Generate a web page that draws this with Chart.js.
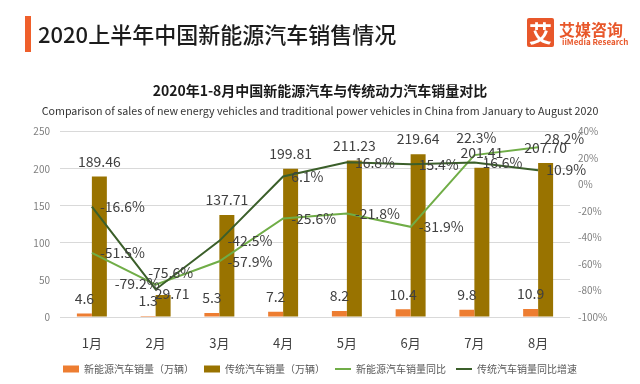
<!DOCTYPE html>
<html>
<head>
<meta charset="utf-8">
<script src="https://cdn.jsdelivr.net/npm/chart.js@4.4.1/dist/chart.umd.min.js"></script>
<style>
  html, body { margin: 0; padding: 0; background: #fff; }
  body { width: 640px; height: 384px; position: relative; overflow: hidden; font-family: "Noto Sans CJK SC", sans-serif; }
  .bar { position: absolute; left: 25px; top: 16px; width: 6px; height: 36px; background: #ef5f2b; }
  .head { position: absolute; left: 38px; top: 18px; font-size: 22px; line-height: 30px; color: #1c1c1c; font-weight: 500; }
  .logo-box { position: absolute; left: 527px; top: 18px; width: 27px; height: 29px; background: #e8572a; color: #fff;
    font-size: 23px; font-weight: 700; line-height: 29px; text-align: center; border-radius: 2px; }
  .logo-cn { position: absolute; left: 559px; top: 19px; font-size: 16px; line-height: 20px; font-weight: 700; color: #e8572a; }
  .logo-en { position: absolute; left: 562px; top: 37px; font-size: 8px; line-height: 10px; font-weight: 700; color: #e8572a; }
  .wrap { position: absolute; left: 0; top: 0; width: 640px; height: 384px; }
</style>
</head>
<body>
<div class="wrap"><canvas id="salesChart"></canvas></div>
<div class="bar"></div>
<div class="head">2020上半年中国新能源汽车销售情况</div>
<div class="logo-box">艾</div>
<div class="logo-cn">艾媒咨询</div>
<div class="logo-en">iiMedia Research</div>
<script>
const months = ["1月", "2月", "3月", "4月", "5月", "6月", "7月", "8月"];
const nevSales = [4.6, 1.3, 5.3, 7.2, 8.2, 10.4, 9.8, 10.9];
const fuelSales = [189.46, 29.71, 137.71, 199.81, 211.23, 219.64, 201.41, 207.70];
const nevYoY = [-51.5, -75.6, -57.9, -25.6, -21.8, -31.9, 22.3, 28.2];
const fuelYoY = [-16.6, -79.2, -42.5, 6.1, 16.8, 15.4, 16.6, 10.9];

// label nudges where the original moved them off the default spot
const labelTweaks = {
  1: { 1: { dx: 9, dy: 14 } },
  2: { 1: { align: "center", dx: 15, dy: -12 }, 6: { align: "center", dx: 2, dy: -17 }, 7: { dx: 6, dy: -9 } },
  3: { 1: { align: "right", dx: 4, dy: -6 } }
};

const valueLabels = {
  id: "valueLabels",
  afterDatasetsDraw(chart) {
    const ctx = chart.ctx;
    ctx.save();
    ctx.font = '14px "Noto Sans CJK SC"';
    ctx.fillStyle = "#404040";
    ctx.textBaseline = "middle";
    chart.data.datasets.forEach((ds, di) => {
      const meta = chart.getDatasetMeta(di);
      meta.data.forEach((el, i) => {
        const v = ds.data[i];
        const tw = (labelTweaks[di] && labelTweaks[di][i]) || {};
        let text, x, y, align;
        if (ds.type === "line") {
          text = v.toFixed(1) + "%";
          align = tw.align || "left";
          x = el.x + (tw.dx !== undefined ? tw.dx : 8);
          y = el.y + (tw.dy || 0);
        } else {
          text = v.toFixed(ds.decimals);
          align = "center";
          x = el.x + (tw.dx || 0);
          y = el.y - 15 + (tw.dy || 0);
        }
        ctx.textAlign = align;
        ctx.fillText(text, x, y);
      });
    });
    ctx.restore();
  }
};

Chart.defaults.font.family = '"Noto Sans CJK SC", sans-serif';

new Chart(document.getElementById("salesChart"), {
  type: "bar",
  data: {
    labels: months,
    datasets: [
      { type: "bar", label: "新能源汽车销量（万辆）", data: nevSales, decimals: 1, backgroundColor: "#ed7d31",
        yAxisID: "y", order: 2, pointStyle: "rect", categoryPercentage: 0.47, barPercentage: 1 },
      { type: "bar", label: "传统汽车销量（万辆）", data: fuelSales, decimals: 2, backgroundColor: "#997300",
        yAxisID: "y", order: 2, pointStyle: "rect", categoryPercentage: 0.47, barPercentage: 1 },
      { type: "line", label: "新能源汽车销量同比", data: nevYoY, borderColor: "#70ad47", backgroundColor: "#70ad47",
        borderWidth: 2, pointRadius: 0, tension: 0, yAxisID: "y1", order: 1, pointStyle: "line" },
      { type: "line", label: "传统汽车销量同比增速", data: fuelYoY, borderColor: "#3b5f2a", backgroundColor: "#3b5f2a",
        borderWidth: 2, pointRadius: 0, tension: 0, yAxisID: "y1", order: 0, pointStyle: "line" }
    ]
  },
  options: {
    responsive: true,
    maintainAspectRatio: false,
    animation: false,
    layout: { padding: { top: 82, left: 0, right: 0, bottom: 0 } },
    plugins: {
      title: {
        display: true,
        text: "2020年1-8月中国新能源汽车与传统动力汽车销量对比",
        color: "#1a1a1a",
        font: { size: 14, weight: "bold" },
        padding: { top: 0, bottom: 6 }
      },
      subtitle: {
        display: true,
        text: "Comparison of sales of new energy vehicles and traditional power vehicles in China from January to August 2020",
        color: "#333",
        font: { size: 10.7 },
        padding: { top: 0, bottom: 14 }
      },
      legend: {
        position: "bottom",
        labels: {
          usePointStyle: true,
          pointStyleWidth: 16,
          boxHeight: 7,
          color: "#595959",
          font: { size: 10 },
          padding: 10,
          sort: (a, b) => a.datasetIndex - b.datasetIndex
        }
      },
      tooltip: { enabled: false }
    },
    scales: {
      x: {
        grid: { display: false, drawTicks: false },
        border: { display: false },
        ticks: { color: "#404040", font: { size: 13 }, padding: 18 },
        afterFit(scale) { scale.height = 37; }
      },
      y: {
        min: 0, max: 250,
        ticks: { stepSize: 50, color: "#7f7f7f", font: { size: 10 }, padding: 10 },
        grid: { color: "#d9d9d9", drawTicks: false },
        border: { display: false },
        afterFit(scale) { scale.width = 60; }
      },
      y1: {
        position: "right",
        min: -100, max: 40,
        ticks: { stepSize: 20, color: "#7f7f7f", font: { size: 10 }, padding: 8, callback: v => v + "%" },
        grid: { display: false, drawTicks: false },
        border: { display: false },
        afterFit(scale) { scale.width = 70; }
      }
    }
  },
  plugins: [valueLabels]
});
</script>
</body>
</html>
